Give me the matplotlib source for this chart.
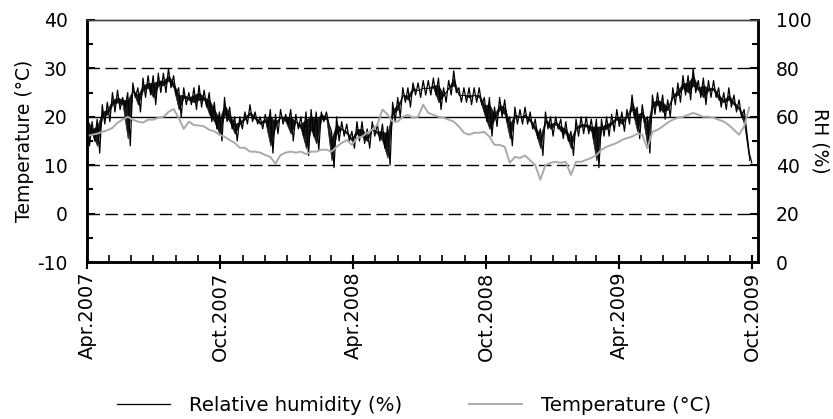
import matplotlib
matplotlib.use('Agg')
import matplotlib.pyplot as plt, numpy as np, matplotlib.dates as mdates
from matplotlib.ticker import MultipleLocator

plt.rcParams['font.family'] = ['DejaVu Sans']
plt.rcParams['axes.unicode_minus'] = False

# weekly readings from 1 Apr 2007, RH as upper/lower edge of the daily band
rh_hi = [62,58,59,65,66,70,71,68,70,74,72,76,77,77,78,78,80,77,72,72,70,72,73,71,70,66,62,68,64,60,
         60,62,65,62,60,61,63,61,63,61,63,61,60,62,63,62,62,62,54,60,58,57,54,58,58,55,58,57,57,56,
         66,68,72,72,74,74,75,75,76,76,72,75,79,72,72,72,72,72,68,68,64,68,67,60,64,63,64,62,59,55,
         62,60,60,59,58,54,59,60,60,59,59,59,60,61,63,62,63,69,64,65,60,69,70,69,67,72,74,77,77,80,
         75,76,75,75,72,70,72,69,67,63,45]
rh_lo = [48,50,45,57,58,62,63,64,48,68,62,68,69,65,70,70,72,69,60,65,65,63,64,64,58,55,50,58,55,50,
         55,57,58,57,55,56,45,53,57,57,50,55,52,44,52,46,58,57,39,50,52,50,47,50,49,47,52,50,47,40,
         58,60,66,64,69,68,69,69,69,63,66,69,70,66,66,65,66,65,58,52,56,60,58,48,57,57,57,55,51,44,
         55,52,55,51,50,44,52,53,53,51,39,52,52,54,56,54,57,60,51,58,45,61,62,59,60,65,66,69,67,70,
         68,65,68,68,64,63,64,62,60,54,41]
temp = [16.0,16.3,16.5,16.9,17.2,17.7,18.8,19.4,20.0,19.4,19.0,18.8,19.4,19.4,19.8,20.0,21.0,21.6,19.8,17.5,
        19.0,18.3,18.2,18.0,17.3,17.0,16.3,15.9,15.2,14.6,13.6,13.6,12.8,12.8,12.6,12.1,11.7,10.3,12.1,12.6,
        12.8,12.6,12.8,12.3,12.8,12.8,13.2,13.2,12.8,13.8,14.6,15.2,14.2,15.6,15.9,16.7,17.3,18.3,21.5,20.5,
        19.0,19.0,20.0,20.4,19.8,20.0,22.5,20.8,20.4,20.0,19.8,19.4,19.0,18.0,16.7,16.3,16.7,16.7,16.9,15.9,
        14.2,14.2,13.8,10.5,11.7,11.5,12.0,11.0,10.0,7.0,10.0,10.5,10.7,10.5,10.7,8.0,10.7,10.7,11.1,11.5,
        12.1,13.2,13.8,14.2,14.6,15.2,15.6,15.9,16.5,16.3,13.5,16.9,17.3,18.0,18.8,19.4,19.8,20.0,20.4,20.8,
        20.4,20.0,20.0,19.8,19.4,19.0,18.3,17.3,16.3,18.0,21.9]

start = np.datetime64('2007-04-01T00')
rh = np.column_stack([rh_hi, rh_lo]).ravel()
rh_dates = start + np.arange(len(rh)) * np.timedelta64(84, 'h')
wk_dates = start + np.arange(len(temp)) * np.timedelta64(168, 'h')

fig = plt.figure(figsize=(8.33, 4.19), dpi=100)
ax = fig.add_axes([0.1044, 0.3747, 0.8055, 0.5776])
ax2 = ax.twinx()
ax.set_zorder(2)
ax.patch.set_visible(False)

band_lo = np.minimum(np.array(rh_hi) - 3, np.array(rh_lo) + 3)
band_hi = np.maximum(np.array(rh_lo) + 3, np.array(rh_hi) - 3)
ax2.fill_between(wk_dates, band_lo, band_hi, color='#1a1a1a', lw=0.5)
ax2.plot(rh_dates, rh, color='black', lw=0.9, label='Relative humidity (%)')
ax.plot(wk_dates, temp, color='#aaaaaa', lw=1.4, label='Temperature (\u00b0C)')

for v in [0, 10, 30]:
    ax.axhline(v, color='black', lw=1.0, ls=(0, (9, 4)), zorder=0)
ax.axhline(20, color='black', lw=1.0, zorder=0)

ax.set_ylim(-10, 40)
ax2.set_ylim(0, 100)
ax.set_xlim(np.datetime64('2007-04-01'), np.datetime64('2009-10-09'))
ax.yaxis.set_major_locator(MultipleLocator(10))
ax.yaxis.set_minor_locator(MultipleLocator(5))
ax2.yaxis.set_major_locator(MultipleLocator(20))
ax2.yaxis.set_minor_locator(MultipleLocator(10))

ax.xaxis.set_major_locator(mdates.MonthLocator(bymonth=[4, 10]))
ax.xaxis.set_minor_locator(mdates.MonthLocator())
ax.xaxis.set_major_formatter(mdates.DateFormatter('%b.%Y'))
plt.setp(ax.get_xticklabels(), rotation=90)

ax.tick_params(axis='y', which='both', direction='in', labelsize=13.5, width=1.5, pad=14)
ax.tick_params(axis='y', which='major', length=6)
ax.tick_params(axis='y', which='minor', length=4)
ax2.tick_params(axis='y', which='both', direction='in', labelsize=13.5, width=1.5, pad=13)
ax2.tick_params(axis='y', which='major', length=6)
ax2.tick_params(axis='y', which='minor', length=4)
ax.tick_params(axis='x', which='major', direction='inout', length=10, width=1.5, labelsize=14, pad=2)
ax.tick_params(axis='x', which='minor', direction='in', length=5, width=1.2)

for a in (ax, ax2):
    for s in ['left', 'right', 'bottom']:
        a.spines[s].set_linewidth(1.8)
    a.spines['top'].set_linewidth(1.0)
    a.spines['top'].set_color('#444444')

ax.set_ylabel('Temperature (\u00b0C)', fontsize=13.5, labelpad=2)
ax2.set_ylabel('RH (%)', fontsize=13.5, rotation=270, labelpad=13)

h1, l1 = ax2.get_legend_handles_labels()
h2, l2 = ax.get_legend_handles_labels()
fig.legend(h1 + h2, l1 + l2, loc='center', bbox_to_anchor=(0.497, 0.033), ncol=2, frameon=False,
           fontsize=14.2, handlelength=2.7, columnspacing=3.4, handletextpad=0.95)

fig.savefig('out.png', dpi=100)
